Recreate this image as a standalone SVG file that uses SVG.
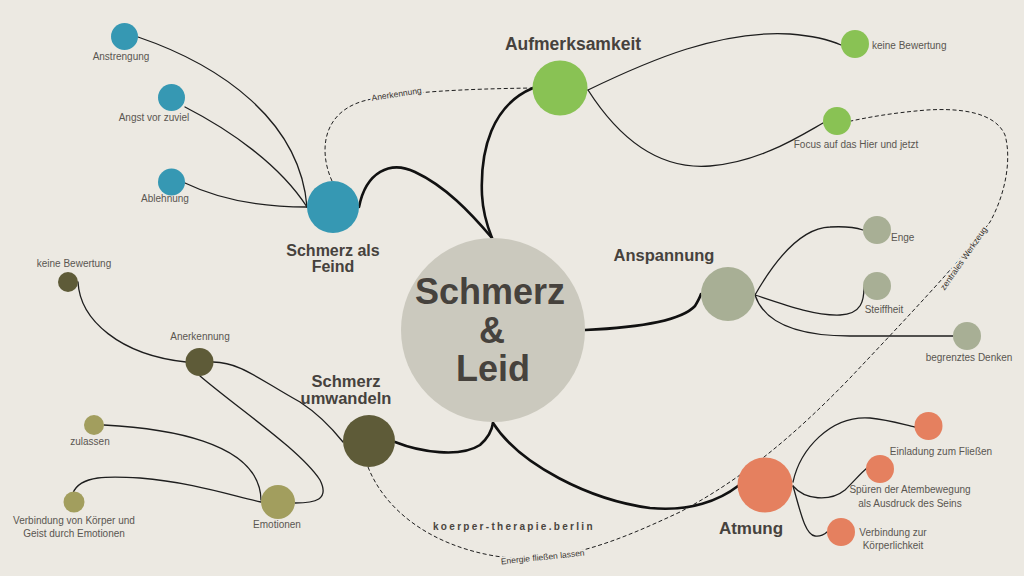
<svg xmlns="http://www.w3.org/2000/svg" width="1024" height="576" viewBox="0 0 1024 576">
<style>
  .bg{fill:#ECE9E2}
  .thin{fill:none;stroke:#1E1E1E;stroke-width:1.3;stroke-linecap:round}
  .thick{fill:none;stroke:#111;stroke-width:2.6;stroke-linecap:round}
  .dash{fill:none;stroke:#1E1E1E;stroke-width:1;stroke-dasharray:4 2.5}
  .lbl{font-family:"Liberation Sans",Arial,sans-serif;font-size:10px;fill:#5A5651}
  .dl{font-family:"Liberation Sans",Arial,sans-serif;font-size:8.5px;fill:#3A3632;stroke:#ECE9E2;stroke-width:4;paint-order:stroke;stroke-linejoin:round}
  .big{font-family:"Liberation Sans",Arial,sans-serif;font-weight:bold;fill:#46423D}
  .blue{fill:#3698B3}
  .green{fill:#89C254}
  .sage{fill:#A8AF95}
  .orange{fill:#E5805F}
  .dolive{fill:#5E5B38}
  .lolive{fill:#A29E5E}
</style>
<rect class="bg" x="0" y="0" width="1024" height="576"/>

<g id="connectors">
  <!-- dashed -->
  <path class="dash" d="M332,181 C318,150 322,108 372,99 C410,92 460,89 533,88"/>
  <path class="dash" d="M368,467 C385,510 430,545 495,556 C560,566 620,540 680,512 C740,480 790,440 850,378 C900,325 960,262 990,222 C1005,195 1012,160 1005,135 C995,112 960,108 927,110 C890,113 865,118 851,121"/>
  <!-- thick main -->
  <path class="thick" d="M359,207 C366,172 390,160 415,172 C445,186 470,212 492,238"/>
  <path class="thick" d="M533,88 C492,105 480,150 482,195 C483,215 488,228 492,238"/>
  <path class="thick" d="M585,330 C630,328 680,322 695,306 C698,301 700,297 701,294"/>
  <path class="thick" d="M493,423 C520,465 590,500 650,508 C690,512 720,500 738,486"/>
  <path class="thick" d="M395,442 C420,452 460,458 480,445 C488,438 492,430 493,423"/>
  <!-- blue -->
  <path class="thin" d="M138,37 C220,65 300,120 307,207"/>
  <path class="thin" d="M185,107 C230,130 280,165 307,207"/>
  <path class="thin" d="M185,183 C220,200 260,207 307,207"/>
  <!-- green -->
  <path class="thin" d="M588,90 C650,60 720,30 790,34 C815,36 830,40 841,45"/>
  <path class="thin" d="M588,90 C620,140 660,170 710,166 C760,162 800,136 823,123"/>
  <!-- sage -->
  <path class="thin" d="M755,295 C775,260 800,228 830,227 C848,226 857,228 863,230"/>
  <path class="thin" d="M755,295 C785,305 815,316 840,315 C862,314 864,300 864,287"/>
  <path class="thin" d="M755,295 C765,325 800,336 850,336 L953,336"/>
  <!-- orange -->
  <path class="thin" d="M793,482 C800,450 830,415 870,418 C890,420 905,425 915,427"/>
  <path class="thin" d="M793,486 C805,500 830,502 845,490 C855,480 862,472 867,468"/>
  <path class="thin" d="M793,486 C800,510 805,535 815,536 C820,537 825,534 827,532"/>
  <!-- olive -->
  <path class="thin" d="M78,282 C80,320 120,355 186,362"/>
  <path class="thin" d="M213,362 C240,362 260,380 300,402 C320,415 335,432 343,442"/>
  <path class="thin" d="M200,376 C240,410 300,450 320,480 C330,500 315,503 295,503"/>
  <path class="thin" d="M104,425 C160,428 260,440 261,500"/>
  <path class="thin" d="M73,493 C80,475 110,476 140,478 C190,482 230,495 261,502"/>
  <!-- dashed labels -->
  <text class="dl" transform="translate(397,97) rotate(-9)" text-anchor="middle">Anerkennung</text>
  <text class="dl" transform="translate(966,260) rotate(-55)" text-anchor="middle" font-size="9">zentrales Werkzeug</text>
  <text class="dl" transform="translate(543,560) rotate(-6)" text-anchor="middle">Energie fließen lassen</text>
</g>

<g id="center">
  <circle cx="493" cy="330" r="92" fill="#CBC9BE"/>
  <text class="big" font-size="36" text-anchor="middle"><tspan x="490" y="304">Schmerz</tspan><tspan x="492" y="343">&amp;</tspan><tspan x="493" y="381">Leid</tspan></text>
</g>

<g id="schmerz-als-feind">
  <circle class="blue" cx="333" cy="207" r="26"/>
  <text class="big" font-size="16" text-anchor="middle"><tspan x="333" y="256">Schmerz als</tspan><tspan x="333" y="272">Feind</tspan></text>
</g>
<g id="anstrengung">
  <circle class="blue" cx="124.5" cy="36.5" r="13.5"/>
  <text class="lbl" x="121" y="60" text-anchor="middle">Anstrengung</text>
</g>
<g id="angst">
  <circle class="blue" cx="171.5" cy="97.5" r="13.5"/>
  <text class="lbl" x="154" y="121" text-anchor="middle">Angst vor zuviel</text>
</g>
<g id="ablehnung">
  <circle class="blue" cx="171.5" cy="182" r="13.5"/>
  <text class="lbl" x="165" y="202" text-anchor="middle">Ablehnung</text>
</g>

<g id="aufmerksamkeit">
  <circle class="green" cx="560" cy="88" r="27.5"/>
  <text class="big" x="573" y="50" font-size="17.5" text-anchor="middle">Aufmerksamkeit</text>
</g>
<g id="keine-bewertung-g">
  <circle class="green" cx="855" cy="44" r="14"/>
  <text class="lbl" x="872" y="49">keine Bewertung</text>
</g>
<g id="focus">
  <circle class="green" cx="837" cy="121" r="14"/>
  <text class="lbl" x="856" y="148" text-anchor="middle">Focus auf das Hier und jetzt</text>
</g>

<g id="anspannung">
  <circle class="sage" cx="728" cy="294" r="27"/>
  <text class="big" x="664" y="261" font-size="16.5" text-anchor="middle">Anspannung</text>
</g>
<g id="enge">
  <circle class="sage" cx="877" cy="230" r="14"/>
  <text class="lbl" x="891" y="241">Enge</text>
</g>
<g id="steiffheit">
  <circle class="sage" cx="877" cy="286" r="14"/>
  <text class="lbl" x="884" y="313" text-anchor="middle">Steiffheit</text>
</g>
<g id="begrenztes-denken">
  <circle class="sage" cx="967" cy="336" r="14"/>
  <text class="lbl" x="969" y="361" text-anchor="middle">begrenztes Denken</text>
</g>

<g id="atmung">
  <circle class="orange" cx="765" cy="485" r="27.5"/>
  <text class="big" x="751" y="534" font-size="17" text-anchor="middle">Atmung</text>
</g>
<g id="einladung">
  <circle class="orange" cx="928.5" cy="426" r="14"/>
  <text class="lbl" x="941" y="455" text-anchor="middle">Einladung zum Fließen</text>
</g>
<g id="spueren">
  <circle class="orange" cx="880" cy="469" r="14"/>
  <text class="lbl" text-anchor="middle"><tspan x="910" y="493">Spüren der Atembewegung</tspan><tspan x="910" y="507">als Ausdruck des Seins</tspan></text>
</g>
<g id="verbindung-koerperlichkeit">
  <circle class="orange" cx="841" cy="532" r="14"/>
  <text class="lbl" text-anchor="middle"><tspan x="893" y="536">Verbindung zur</tspan><tspan x="893" y="549">Körperlichkeit</tspan></text>
</g>

<g id="schmerz-umwandeln">
  <circle class="dolive" cx="369" cy="441" r="26"/>
  <text class="big" font-size="16.5" text-anchor="middle"><tspan x="346" y="387">Schmerz</tspan><tspan x="346" y="404">umwandeln</tspan></text>
</g>
<g id="keine-bewertung-o">
  <circle class="dolive" cx="68" cy="282" r="10"/>
  <text class="lbl" x="74" y="267" text-anchor="middle">keine Bewertung</text>
</g>
<g id="anerkennung">
  <circle class="dolive" cx="199.5" cy="362" r="14"/>
  <text class="lbl" x="200" y="340" text-anchor="middle">Anerkennung</text>
</g>
<g id="zulassen">
  <circle class="lolive" cx="94" cy="425" r="10"/>
  <text class="lbl" x="90" y="445" text-anchor="middle">zulassen</text>
</g>
<g id="emotionen">
  <circle class="lolive" cx="278" cy="502" r="17"/>
  <text class="lbl" x="277" y="528" text-anchor="middle">Emotionen</text>
</g>
<g id="verbindung-koerper-geist">
  <circle class="lolive" cx="74" cy="502" r="10.5"/>
  <text class="lbl" text-anchor="middle"><tspan x="74" y="524">Verbindung von Körper und</tspan><tspan x="74" y="537">Geist durch Emotionen</tspan></text>
</g>

<g id="footer">
  <text x="433" y="530" font-family="'Liberation Sans',Arial,sans-serif" font-size="10" font-weight="bold" letter-spacing="2.3" fill="#4A4540">koerper-therapie.berlin</text>
</g>
</svg>
